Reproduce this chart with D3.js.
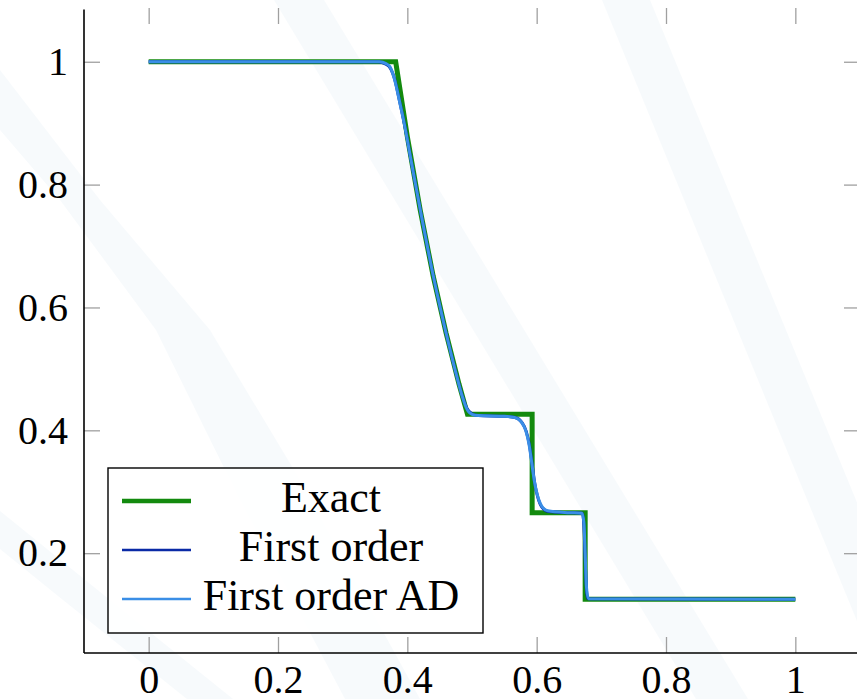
<!DOCTYPE html>
<html>
<head>
<meta charset="utf-8">
<script src="https://cdn.jsdelivr.net/npm/d3@7"></script>
<style>
  body { margin: 0; background: #fff; }
</style>
</head>
<body>
<div id="chart"></div>
<script>
// tick labels
var xTicks = [0, 0.2, 0.4, 0.6, 0.8, 1];
var yTicks = [0.2, 0.4, 0.6, 0.8, 1];

// exact solution
var exactX = [0, 0.382, 0.40, 0.42, 0.44, 0.46, 0.48, 0.493, 0.593, 0.593, 0.675, 0.675, 1];
var exactY = [1, 1, 0.878, 0.758, 0.651, 0.558, 0.475, 0.426, 0.426, 0.266, 0.266, 0.125, 0.125];

// first order scheme
var foX = [0, 0.355, 0.365, 0.372, 0.38, 0.388, 0.396, 0.406, 0.42, 0.44, 0.46, 0.475, 0.485, 0.492, 0.50, 0.51, 0.55, 0.567, 0.577, 0.584, 0.589, 0.593, 0.597, 0.602, 0.608, 0.618, 0.65, 0.671, 0.673, 0.675, 0.677, 0.679, 1];
var foY = [1, 1, 0.997, 0.992, 0.973, 0.936, 0.896, 0.838, 0.759, 0.652, 0.558, 0.494, 0.456, 0.436, 0.427, 0.424, 0.423, 0.421, 0.413, 0.398, 0.375, 0.345, 0.314, 0.290, 0.275, 0.268, 0.266, 0.265, 0.245, 0.19, 0.14, 0.126, 0.125];

// first order AD scheme
var adX = [0, 0.357, 0.367, 0.373, 0.38, 0.388, 0.396, 0.406, 0.42, 0.44, 0.46, 0.475, 0.485, 0.492, 0.50, 0.51, 0.55, 0.566, 0.576, 0.583, 0.588, 0.592, 0.596, 0.601, 0.607, 0.617, 0.65, 0.670, 0.673, 0.675, 0.677, 0.680, 1];
var adY = [1, 1, 0.997, 0.992, 0.972, 0.935, 0.895, 0.838, 0.759, 0.652, 0.558, 0.494, 0.455, 0.435, 0.426, 0.424, 0.423, 0.421, 0.414, 0.400, 0.378, 0.350, 0.320, 0.295, 0.278, 0.269, 0.266, 0.265, 0.25, 0.20, 0.145, 0.126, 0.125];

var seriesNames = ["Exact", "First order", "First order AD"];
var seriesColors = ["#138a0e", "#0a2aa6", "#3a8ee6"];
var seriesWidths = [5, 3, 3];

var FONT = "'Liberation Serif', serif";

var svgWidth = 857, svgHeight = 699;
var margin = { top: 8, right: -3, bottom: 46, left: 84 };
var width = svgWidth - margin.left - margin.right;
var height = svgHeight - margin.top - margin.bottom;

var svg = d3.select("#chart").append("svg")
  .attr("width", svgWidth)
  .attr("height", svgHeight);

// faint diagonal watermark bands behind the plot
var bands = [
  [[602, 0], [650, 0], [938, 699], [889, 699]],
  [[274, 0], [324, 0], [748, 699], [696, 699]],
  [[0, 70], [100, 200], [210, 330], [300, 480], [420, 699], [345, 699], [240, 500], [156, 330], [60, 200], [0, 130]],
  [[0, 511], [110, 600], [233, 699], [187, 699], [63, 600], [0, 549]]
];
svg.selectAll(".band")
  .data(bands)
  .enter()
  .append("polygon")
  .attr("points", d => d.map(p => p.join(",")).join(" "))
  .attr("fill", "#2a7ab8")
  .attr("opacity", 0.04);

var chartGroup = svg.append("g")
  .attr("transform", `translate(${margin.left}, ${margin.top})`);

// pgfplots style enlarged limits
var xScale = d3.scaleLinear().domain([-0.1, 1.1]).range([0, width]);
var yScale = d3.scaleLinear().domain([0.0375, 1.0875]).range([height, 0]);

var tickLen = 16, tickColor = "#a0a0a0";

// inner ticks on all four sides
var bottomAxis = d3.axisBottom(xScale).tickValues(xTicks).tickSizeInner(-tickLen).tickSizeOuter(0).tickFormat(d3.format("~g")).tickPadding(12);
var topAxis = d3.axisTop(xScale).tickValues(xTicks).tickSizeInner(-tickLen).tickSizeOuter(0).tickFormat("");
var leftAxis = d3.axisLeft(yScale).tickValues(yTicks).tickSizeInner(-tickLen).tickSizeOuter(0).tickFormat(d3.format("~g")).tickPadding(16);
var rightAxis = d3.axisRight(yScale).tickValues(yTicks).tickSizeInner(-tickLen).tickSizeOuter(0).tickFormat("");

function styleAxis(g) {
  g.select(".domain").remove();
  g.selectAll(".tick line").attr("stroke", tickColor).attr("stroke-width", 1.3);
  g.selectAll(".tick text")
    .attr("fill", "#000")
    .style("font-family", FONT)
    .style("font-size", "40px");
}

chartGroup.append("g").attr("transform", `translate(0, ${height})`).call(bottomAxis).call(styleAxis);
chartGroup.append("g").call(topAxis).call(styleAxis);
chartGroup.append("g").call(leftAxis).call(styleAxis);
chartGroup.append("g").attr("transform", `translate(${width}, 0)`).call(rightAxis).call(styleAxis);

// axis lines (top/right edges fall outside the picture)
chartGroup.append("line").attr("x1", 0).attr("x2", 0).attr("y1", 1.5).attr("y2", height)
  .attr("stroke", "#000").attr("stroke-width", 1.6);
chartGroup.append("line").attr("x1", 0).attr("x2", width).attr("y1", height).attr("y2", height)
  .attr("stroke", "#000").attr("stroke-width", 1.6);

// lines
var seriesData = [
  d3.zip(exactX, exactY),
  d3.zip(foX, foY),
  d3.zip(adX, adY)
];

var line = d3.line().x(d => xScale(d[0])).y(d => yScale(d[1]));
var curve = d3.line().x(d => xScale(d[0])).y(d => yScale(d[1])).curve(d3.curveMonotoneX);

seriesData.forEach(function(s, i) {
  chartGroup.append("path")
    .datum(s)
    .attr("d", i == 0 ? line : curve)
    .attr("fill", "none")
    .attr("stroke", seriesColors[i])
    .attr("stroke-width", seriesWidths[i])
    .attr("stroke-linejoin", "miter");
});

// legend
var legend = svg.append("g").attr("transform", "translate(108, 468)");
legend.append("rect")
  .attr("width", 375).attr("height", 165)
  .attr("fill", "#fff").attr("fill-opacity", 0.85)
  .attr("stroke", "#000").attr("stroke-width", 1.4);

seriesNames.forEach(function(name, i) {
  var y = 33 + i * 49;
  legend.append("line")
    .attr("x1", 14).attr("x2", 83).attr("y1", y).attr("y2", y)
    .attr("stroke", seriesColors[i]).attr("stroke-width", seriesWidths[i] - 0.5);
  legend.append("text")
    .attr("x", 223).attr("y", y + 11)
    .attr("text-anchor", "middle")
    .attr("fill", "#000")
    .style("font-family", FONT)
    .style("font-size", "44px")
    .text(name);
});
</script>
</body>
</html>
